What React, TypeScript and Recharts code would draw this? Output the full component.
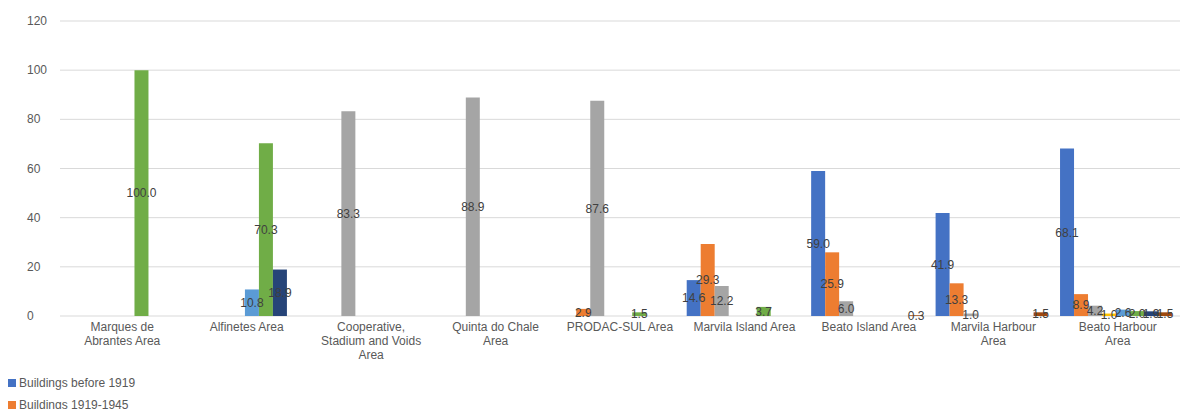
import { BarChart, Bar, XAxis, YAxis, CartesianGrid, LabelList } from 'recharts'

const categories = [
  'Marques de Abrantes Area',
  'Alfinetes Area',
  'Cooperative, Stadium and Voids Area',
  'Quinta do Chale Area',
  'PRODAC-SUL Area',
  'Marvila Island Area',
  'Beato Island Area',
  'Marvila Harbour Area',
  'Beato Harbour Area',
]

// how each category label wraps under the axis
const tickLines: string[][] = [
  ['Marques de', 'Abrantes Area'],
  ['Alfinetes Area'],
  ['Cooperative,', 'Stadium and Voids', 'Area'],
  ['Quinta do Chale', 'Area'],
  ['PRODAC-SUL Area'],
  ['Marvila Island Area'],
  ['Beato Island Area'],
  ['Marvila Harbour', 'Area'],
  ['Beato Harbour', 'Area'],
]

const seriesNames = [
  'Buildings before 1919',
  'Buildings 1919-1945',
  'Buildings 1946-1960',
  'Buildings 1961-1970',
  'Buildings 1971-1980',
  'Buildings 1981-1990',
  'Buildings 1991-2000',
  'Buildings 2001-2011',
]

const seriesColors = [
  '#4472c4',
  '#ed7d31',
  '#a5a5a5',
  '#ffc000',
  '#5b9bd5',
  '#70ad47',
  '#264478',
  '#9e480e',
]

const before1919 = [null, null, null, null, null, 14.6, 59.0, 41.9, 68.1]
const y1919to1945 = [null, null, null, null, 2.9, 29.3, 25.9, 13.3, 8.9]
const y1946to1960 = [null, null, 83.3, 88.9, 87.6, 12.2, 6.0, 1.0, 4.2]
const y1961to1970 = [null, null, null, null, null, null, null, null, 1.0]
const y1971to1980 = [null, 10.8, null, null, null, null, null, null, 2.6]
const y1981to1990 = [100.0, 70.3, null, null, 1.5, 3.7, null, null, 2.0]
const y1991to2000 = [null, 18.9, null, null, null, null, null, null, 1.9]
const y2001to2011 = [null, null, null, null, null, null, 0.3, 1.5, 1.5]

const seriesValues = [
  before1919,
  y1919to1945,
  y1946to1960,
  y1961to1970,
  y1971to1980,
  y1981to1990,
  y1991to2000,
  y2001to2011,
]

const yTicks = [0, 20, 40, 60, 80, 100, 120]

const data = categories.map((name, i) => {
  const row: Record<string, string | number | null> = { name, idx: i }
  seriesValues.forEach((vals, s) => {
    row['s' + s] = vals[i]
  })
  return row
})

const font = '"Liberation Sans", Arial, sans-serif'

function CategoryTick({ x, y, payload }: any) {
  const lines = tickLines[payload.index] ?? [payload.value]
  return (
    <text x={x} y={y} textAnchor="middle" fill="#595959" fontSize={12} fontFamily={font}>
      {lines.map((l, k) => (
        <tspan key={k} x={x} dy={k === 0 ? 7 : 14}>
          {l}
        </tspan>
      ))}
    </text>
  )
}

function ValueTick({ y, payload }: any) {
  return (
    <text x={19} y={y} dy={4} textAnchor="start" fill="#595959" fontSize={12} fontFamily={font}>
      {payload.value}
    </text>
  )
}

export default function App() {
  return (
    <div style={{ position: 'relative', width: 1178, height: 401, overflow: 'hidden', background: '#fff' }}>
      <BarChart
        width={1178}
        height={401}
        data={data}
        margin={{ top: 13, right: 6, bottom: 0, left: 0 }}
        barCategoryGap="3.6%"
        barGap={0}
      >
        <CartesianGrid vertical={false} stroke="#d9d9d9" />
        <XAxis
          dataKey="name"
          axisLine={false}
          tickLine={false}
          interval={0}
          height={93}
          tick={<CategoryTick />}
        />
        <YAxis
          width={52}
          domain={[0, 120]}
          ticks={yTicks}
          axisLine={false}
          tickLine={false}
          tick={<ValueTick />}
        />
        {seriesNames.map((n, s) => (
          <Bar key={n} dataKey={'s' + s} name={n} fill={seriesColors[s]} isAnimationActive={false}>
            <LabelList
              dataKey={'s' + s}
              position="center"
              fill="#404040"
              fontSize={12}
              fontFamily={font}
              formatter={(v: any) => (v == null ? '' : Number(v).toFixed(1))}
            />
          </Bar>
        ))}
      </BarChart>
      <div style={{ position: 'absolute', left: 0, top: 364, fontFamily: font, fontSize: 12, color: '#595959' }}>
        {seriesNames.map((n, s) => (
          <div key={n} style={{ display: 'flex', alignItems: 'center', height: 22 }}>
            <span style={{ width: 8, height: 8, background: seriesColors[s], marginRight: 3 }} />
            {n}
          </div>
        ))}
      </div>
    </div>
  )
}
